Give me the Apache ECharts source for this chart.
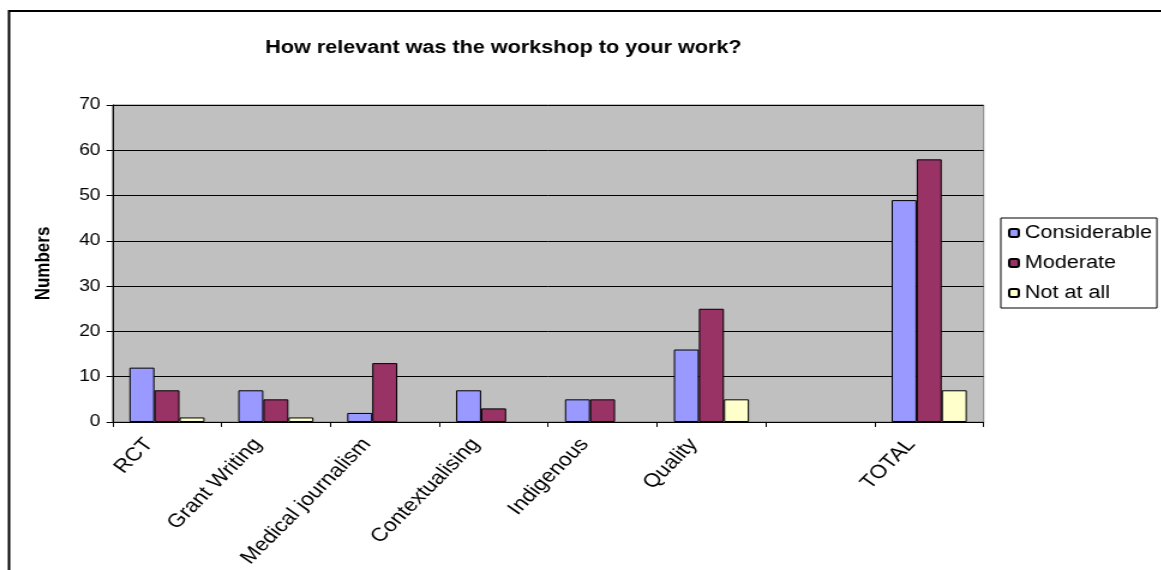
<!DOCTYPE html>
<html>
<head>
<meta charset="utf-8">
<title>How relevant was the workshop to your work?</title>
<script src="https://cdn.jsdelivr.net/npm/echarts@6/dist/echarts.min.js"></script>
<style>
  html, body { margin: 0; padding: 0; background: #ffffff; overflow: hidden; }
  /* the chart is laid out on a narrower canvas and widened horizontally */
  #chart {
    width: 967.5px;
    height: 570px;
    transform: scaleX(1.2);
    transform-origin: 0 0;
  }
</style>
</head>
<body>
<div id="chart"></div>
<script>
const categories = ['RCT', 'Grant Writing', 'Medical journalism', 'Contextualising', 'Indigenous', 'Quality', '', 'TOTAL'];
const considerable = [12, 7, 2, 7, 5, 16, null, 49];
const moderate = [7, 5, 13, 3, 5, 25, null, 58];
const notAtAll = [1, 1, 0, 0, 0, 5, null, 7];
const yTicks = { min: 0, max: 70, interval: 10 };

const FONT = "'Liberation Sans', Arial, sans-serif";

const chart = echarts.init(document.getElementById('chart'), null, { renderer: 'canvas' });

function barSeries(name, data, color) {
  return {
    name: name,
    type: 'bar',
    // zero values get no outline, so they leave no mark on the axis
    data: data.map(function (v) {
      return v === 0 ? { value: 0, itemStyle: { borderWidth: 0 } } : v;
    }),
    barGap: '0%',
    barCategoryGap: '31%',
    itemStyle: { color: color, borderColor: '#000000', borderWidth: 1 },
    emphasis: { disabled: true }
  };
}

chart.setOption({
  animation: false,
  backgroundColor: '#ffffff',
  textStyle: { fontFamily: FONT, color: '#000000' },
  graphic: [{
    type: 'rect',
    z: 100,
    silent: true,
    shape: { x: 7.5, y: 11, width: 1200, height: 800 },
    style: { fill: 'none', stroke: '#000000', lineWidth: 2 }
  }],
  title: {
    text: 'How relevant was the workshop to your work?',
    left: 414.5,
    textAlign: 'center',
    top: 34,
    textStyle: { fontFamily: FONT, fontSize: 18, fontWeight: 'bold', color: '#000000' }
  },
  legend: {
    orient: 'vertical',
    left: 834,
    top: 218,
    padding: [6, 4, 6, 6],
    itemGap: 12,
    itemWidth: 8,
    itemHeight: 8,
    borderColor: '#000000',
    borderWidth: 1,
    backgroundColor: '#ffffff',
    textStyle: { fontFamily: FONT, fontSize: 18, color: '#000000' },
    data: ['Considerable', 'Moderate', 'Not at all']
  },
  grid: {
    left: 93.75,
    right: 148.3,
    top: 105,
    bottom: 147,
    show: true,
    backgroundColor: '#c0c0c0',
    borderColor: '#808080',
    borderWidth: 1,
    containLabel: false
  },
  xAxis: {
    type: 'category',
    data: categories,
    boundaryGap: true,
    axisLine: { lineStyle: { color: '#000000', width: 1 } },
    axisTick: { show: true, length: 5, lineStyle: { color: '#000000' } },
    axisLabel: {
      rotate: 50,
      margin: 16,
      interval: 0,
      verticalAlign: 'bottom',
      padding: [0, 12, 0, 0],
      fontFamily: FONT,
      fontSize: 19,
      color: '#000000'
    },
    splitLine: { show: false }
  },
  yAxis: {
    type: 'value',
    min: yTicks.min,
    max: yTicks.max,
    interval: yTicks.interval,
    name: 'Numbers',
    nameLocation: 'middle',
    nameGap: 49,
    nameRotate: 90,
    nameTextStyle: { fontFamily: FONT, fontSize: 17, fontWeight: 'bold', color: '#000000' },
    axisLine: { show: true, lineStyle: { color: '#000000', width: 1 } },
    axisTick: { show: true, inside: false, length: 5, lineStyle: { color: '#000000' } },
    axisLabel: { margin: 10, fontFamily: FONT, fontSize: 16, color: '#000000' },
    splitLine: { show: true, lineStyle: { color: '#000000', width: 1 } }
  },
  series: [
    barSeries('Considerable', considerable, '#9999ff'),
    barSeries('Moderate', moderate, '#993366'),
    barSeries('Not at all', notAtAll, '#ffffcc')
  ]
});
</script>
</body>
</html>
